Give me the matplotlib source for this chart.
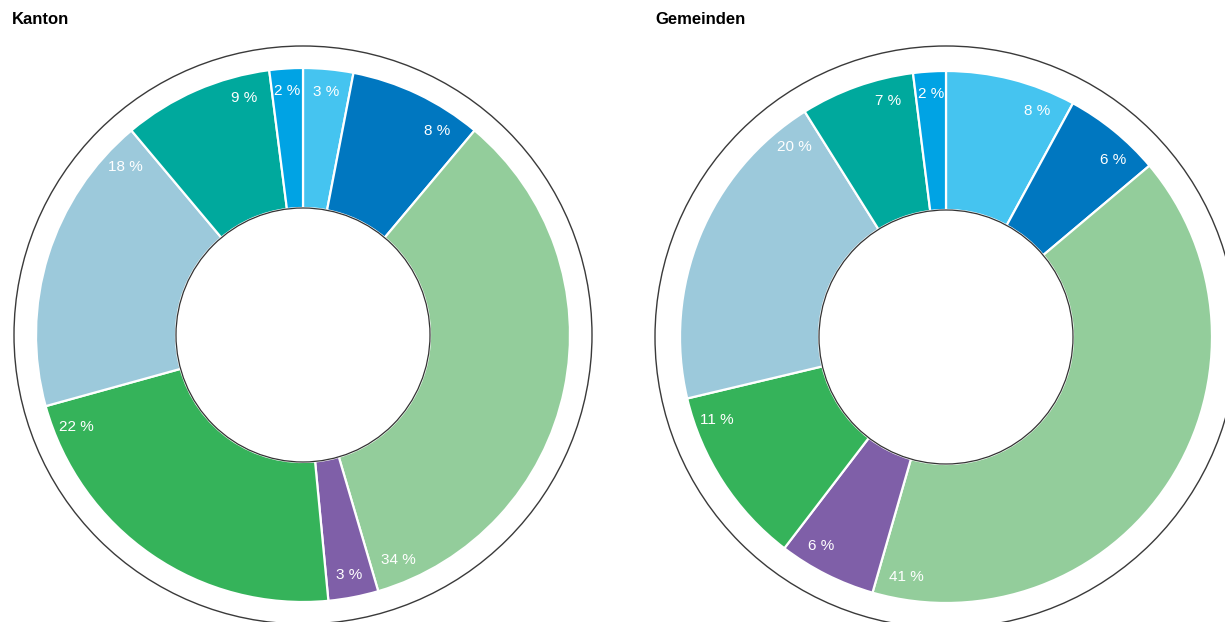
import numpy as np
import matplotlib
matplotlib.use("Agg")
import matplotlib.pyplot as plt
from matplotlib.patches import Circle

plt.rcParams['font.family'] = ['Liberation Sans', 'DejaVu Sans']

# data, clockwise from 12 o'clock
kanton_vals = [3, 8, 34, 3, 22, 18, 9, 2]
gemeinden_vals = [8, 6, 41, 6, 11, 20, 7, 2]
colors = ['#45c4f0', '#0077c0', '#93cd9b', '#7f5fa8', '#35b35a', '#9cc9db', '#00a99d', '#00a3e4']
titles = ['Kanton', 'Gemeinden']

fig = plt.figure(figsize=(12.25, 6.22), dpi=100)
ax = fig.add_axes([0, 0, 1, 1])


def donut(vals, cx, cy, r_out, r_in, r_ring):
    ax.pie(vals, colors=colors, center=(cx, cy), radius=r_out, startangle=90,
           counterclock=False,
           wedgeprops=dict(width=r_out - r_in, edgecolor='white', linewidth=1.6))
    ax.add_patch(Circle((cx, cy), r_in, facecolor='white', edgecolor='#333333', lw=0.9, zorder=3))
    ax.add_patch(Circle((cx, cy), r_ring, facecolor='none', edgecolor='#3a3a3a', lw=1.0, zorder=3))

    total = float(sum(vals))
    ang = 90.0
    r_lab = 0.915 * r_out
    for v in vals:
        span = 360.0 * v / total
        end = ang - span
        mid = ang - span / 2
        off = np.degrees(28.0 / r_lab)
        a = end + off if span / 2 > off else mid
        t = np.radians(a)
        ax.text(cx + r_lab * np.cos(t), cy + r_lab * np.sin(t), f'{v} %',
                color='white', fontsize=11, ha='center', va='center', zorder=4,
                family=['Liberation Sans Narrow', 'Liberation Sans', 'DejaVu Sans'])
        ang = end


H = 622
donut(kanton_vals, 303, H - 335, 267, 127, 289)
donut(gemeinden_vals, 946, H - 337, 266, 127, 291)

ax.text(12, H - 20, titles[0], fontsize=12, fontweight='heavy', ha='left', va='center')
ax.text(655, H - 20, titles[1], fontsize=12, fontweight='heavy', ha='left', va='center')

ax.set_xlim(0, 1225)
ax.set_ylim(0, H)
ax.set_aspect('equal')
ax.axis('off')

fig.savefig('out.png', dpi=100)
